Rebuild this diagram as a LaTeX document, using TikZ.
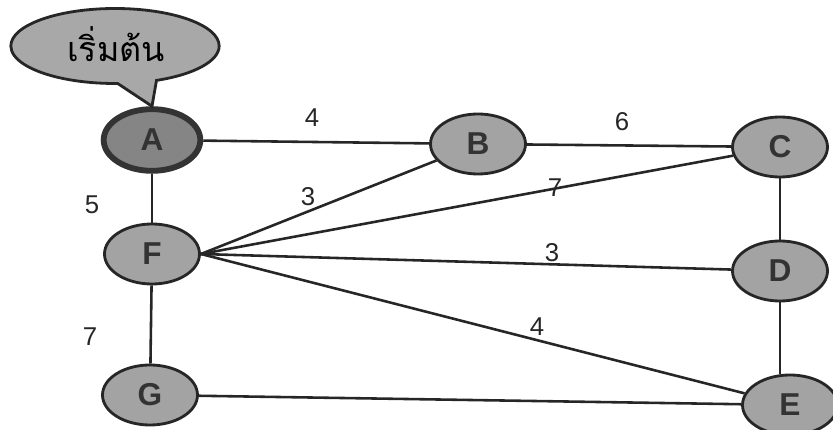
\documentclass[tikz,border=0pt]{standalone}
\usepackage{fontspec}
\setmainfont{Liberation Sans}
\newfontfamily\thaifont[Script=Thai]{Loma}
\usetikzlibrary{shapes.geometric,shapes.callouts}
\begin{document}
\begin{tikzpicture}[x=0.03cm,y=-0.03cm,
  vert/.style={ellipse, draw=black!85, line width=2.4pt, fill=black!36,
    minimum width=2.85cm, minimum height=1.8cm, inner sep=0pt,
    text=black!80, font=\fontsize{27}{29}\selectfont\bfseries},
  startvert/.style={vert, line width=5pt, draw=black!80, fill=black!48,
    minimum width=2.9cm, minimum height=1.85cm},
  edge/.style={line width=2.2pt, draw=black!85},
  wlabel/.style={font=\fontsize{22}{24}\selectfont, inner sep=0pt, text=black!85}]
\useasboundingbox (0,0) rectangle (833,430);

% vertices
\node[startvert] (A) at (152,140) {A};
\node[vert] (B) at (478,144) {B};
\node[vert] (C) at (780,147) {C};
\node[vert] (F) at (152,254) {F};
\node[vert] (D) at (780,271) {D};
\node[vert] (G) at (150,395) {G};
\node[vert] (E) at (790,405) {E};

% callout
\node[ellipse callout, draw=black!85, line width=2.4pt, fill=black!34,
  minimum width=6.25cm, minimum height=2.25cm, inner sep=0pt,
  callout absolute pointer={(A.north)}, callout pointer arc=22]
  (start) at (115,46) {};
\node[inner sep=0pt] (starttext) at (116,44) {\thaifont\fontsize{29}{32}\selectfont เริ่มต้น};

% edges
\draw[edge] (A) -- (B);
\draw[edge] (B) -- (C);
\draw[edge] (A) -- (F);
\draw[edge] (F) -- (G);
\draw[edge] (C) -- (D);
\draw[edge] (D.south) -- (D.south |- E.north);
\draw[edge] (G) -- (E);
\draw[edge] (F.east) -- (B);
\draw[edge] (F.east) -- (C);
\draw[edge] (F.east) -- (D);
\draw[edge] (F.east) -- (E);

% weights
\node[wlabel] (w1) at (312,118) {4};
\node[wlabel] (w2) at (622,122) {6};
\node[wlabel] (w3) at (308,197) {3};
\node[wlabel] (w4) at (555,188) {7};
\node[wlabel] (w5) at (552,253) {3};
\node[wlabel] (w6) at (537,327) {4};
\node[wlabel] (w7) at (92,205) {5};
\node[wlabel] (w8) at (90,337) {7};
\end{tikzpicture}
\end{document}
